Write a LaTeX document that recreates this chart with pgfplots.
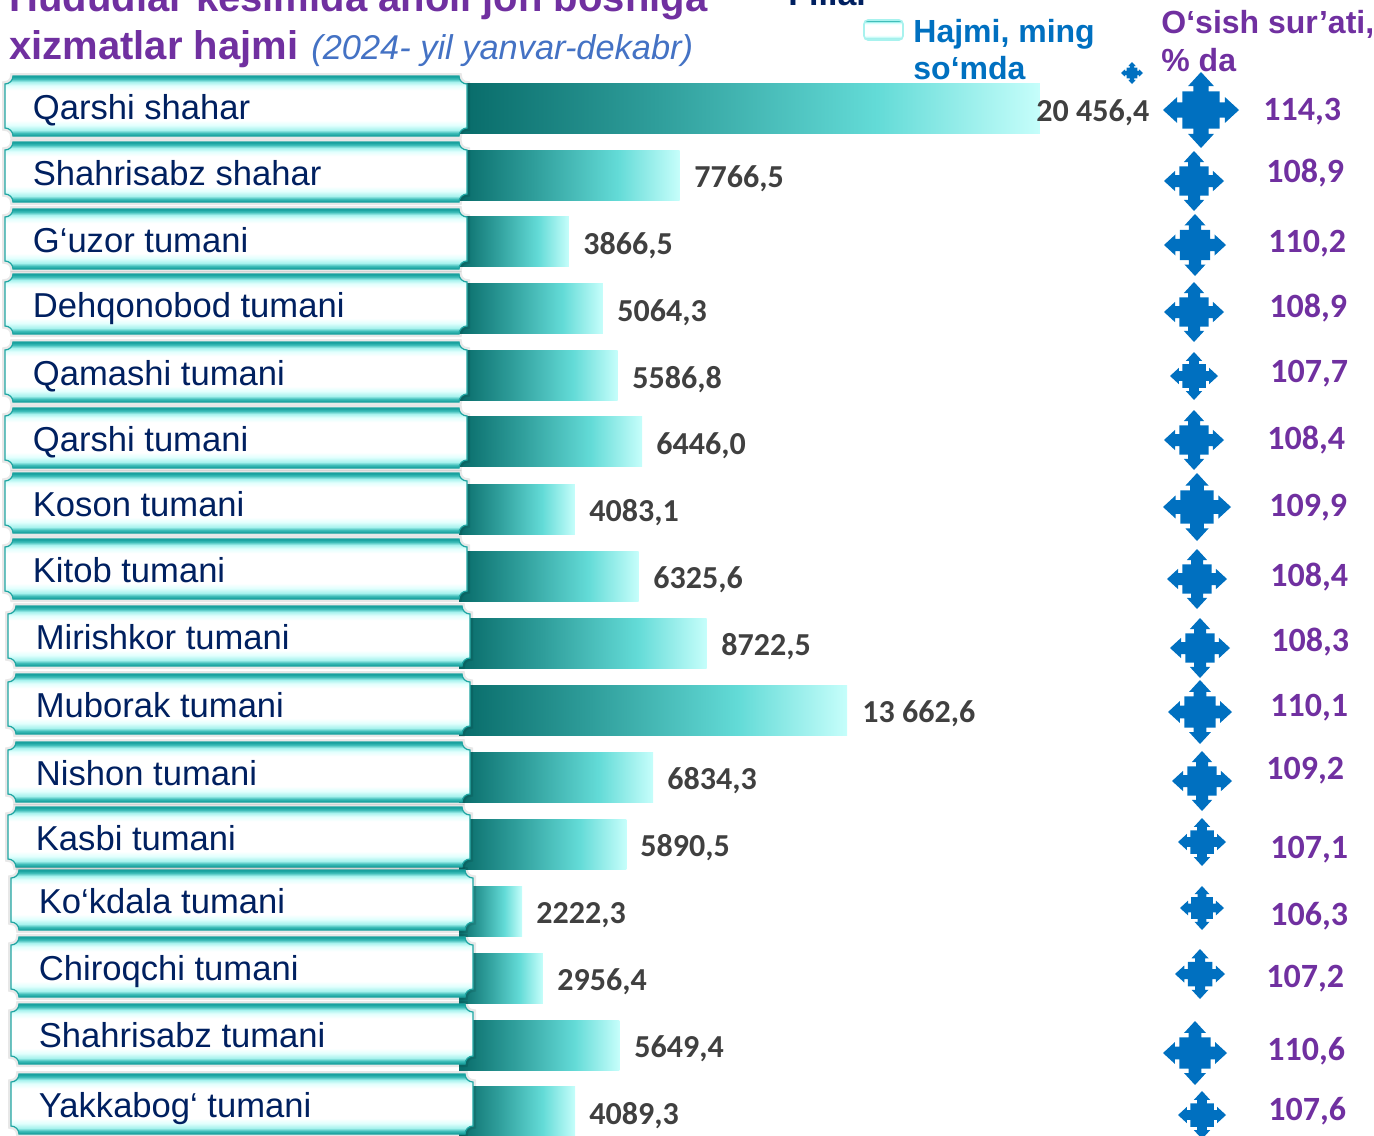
\documentclass[border=0pt]{standalone}
\usepackage{fontspec}
\setmainfont{Liberation Sans}
\newfontfamily\carlito{Carlito}
\usepackage{pgfplots}
\usepackage{pgfplotstable}
\pgfplotsset{compat=1.18}

\definecolor{ttl}{HTML}{7030A0}
\definecolor{sub}{HTML}{4472C4}
\definecolor{nav}{HTML}{002060}
\definecolor{blu}{HTML}{0070C0}
\definecolor{valc}{HTML}{404040}
\definecolor{cardedge}{HTML}{1FA5A2}

% gradient of the bars, left to right (path spans 25bp..75bp)
\definecolor{ba}{HTML}{0A6E6C}
\definecolor{bb}{HTML}{2F9E9B}
\definecolor{bc}{HTML}{63DBD7}
\definecolor{bd}{HTML}{C6FEFB}
\pgfdeclarehorizontalshading{barshade}{100bp}{
  color(0bp)=(ba); color(26bp)=(ba); color(42bp)=(bb);
  color(61bp)=(bc); color(75bp)=(bd); color(100bp)=(bd)}
% bevel of the region plates, bottom to top
\definecolor{ce}{HTML}{0E9B98}
\definecolor{cb}{HTML}{3FBDB9}
\definecolor{cc}{HTML}{A8F2EE}
\definecolor{cd}{HTML}{E2FFFD}
\pgfdeclareverticalshading{cardshade}{100bp}{
  color(0bp)=(ce); color(25bp)=(ce); color(27.5bp)=(cb); color(30bp)=(cc); color(34bp)=(cd); color(38bp)=(white);
  color(63bp)=(white); color(67bp)=(cd); color(70bp)=(cc); color(72.5bp)=(cb); color(75bp)=(ce); color(100bp)=(ce)}

% four-way arrow, scaled by the mark size
\pgfdeclareplotmark{quadarrow}{%
  \def\q##1##2{\pgfpoint{##1\pgfplotmarksize}{##2\pgfplotmarksize}}%
  \pgfpathmoveto{\q{0}{1}}%
  \pgfpathlineto{\q{.34}{.63}}\pgfpathlineto{\q{.2}{.63}}\pgfpathlineto{\q{.2}{.49}}%
  \pgfpathlineto{\q{.49}{.49}}\pgfpathlineto{\q{.49}{.2}}\pgfpathlineto{\q{.63}{.2}}%
  \pgfpathlineto{\q{.63}{.34}}\pgfpathlineto{\q{1}{0}}\pgfpathlineto{\q{.63}{-.34}}%
  \pgfpathlineto{\q{.63}{-.2}}\pgfpathlineto{\q{.49}{-.2}}\pgfpathlineto{\q{.49}{-.49}}%
  \pgfpathlineto{\q{.2}{-.49}}\pgfpathlineto{\q{.2}{-.63}}\pgfpathlineto{\q{.34}{-.63}}%
  \pgfpathlineto{\q{0}{-1}}\pgfpathlineto{\q{-.34}{-.63}}\pgfpathlineto{\q{-.2}{-.63}}%
  \pgfpathlineto{\q{-.2}{-.49}}\pgfpathlineto{\q{-.49}{-.49}}\pgfpathlineto{\q{-.49}{-.2}}%
  \pgfpathlineto{\q{-.63}{-.2}}\pgfpathlineto{\q{-.63}{-.34}}\pgfpathlineto{\q{-1}{0}}%
  \pgfpathlineto{\q{-.63}{.34}}\pgfpathlineto{\q{-.63}{.2}}\pgfpathlineto{\q{-.49}{.2}}%
  \pgfpathlineto{\q{-.49}{.49}}\pgfpathlineto{\q{-.2}{.49}}\pgfpathlineto{\q{-.2}{.63}}%
  \pgfpathlineto{\q{-.34}{.63}}\pgfpathclose
  \pgfusepathqfill}

% arrow centres and half sizes in image pixels
\pgfplotstableread{
x     y     r
1201  110   38
1194  181   30
1195  245   31
1194  312   30
1194  376   24
1194  440   30
1197  507   34
1197  579   30
1200  648   30
1200  712   32
1202  781   30
1202  842   24
1202  908   22
1200  974   25
1195  1053  32
1202  1115  24
1132  73    11
}\arrows

\newcommand\plate[3]{%
  \path[fill=black,opacity=.09,draw=black,line width=3pt]
    (axis cs:#1,#2) ++(-111.5pt,15pt) -- ++(223pt,0)
    arc[start angle=180,end angle=270,radius=4pt] -- ++(0,-22pt)
    arc[start angle=90,end angle=180,radius=4pt] -- ++(-223pt,0)
    arc[start angle=0,end angle=90,radius=4pt] -- ++(0,22pt)
    arc[start angle=270,end angle=360,radius=4pt] -- cycle;
  \path[shading=cardshade,draw=cardedge,line width=.6pt]
    (axis cs:#1,#2) ++(-111.5pt,15pt) -- ++(223pt,0)
    arc[start angle=180,end angle=270,radius=4pt] -- ++(0,-22pt)
    arc[start angle=90,end angle=180,radius=4pt] -- ++(-223pt,0)
    arc[start angle=0,end angle=90,radius=4pt] -- ++(0,22pt)
    arc[start angle=270,end angle=360,radius=4pt] -- cycle;
  \node[anchor=mid west,inner sep=0pt,text=nav,font=\fontsize{17.3}{20}\selectfont]
    at (axis cs:#1-203.5,#2+8) {#3};}
\newcommand\vlab[3]{\node[anchor=mid west,inner sep=0pt,text=valc,
  font=\carlito\bfseries\fontsize{16}{18}\selectfont] at (axis cs:#1,#2+6) {#3};}
\newcommand\glab[3]{\node[anchor=mid west,inner sep=0pt,text=ttl,
  font=\carlito\bfseries\fontsize{17}{19}\selectfont] at (axis cs:#1-1,#2+6) {#3};}
\newcommand\head[4]{\node[anchor=base west,inner sep=0pt,text=#3,
  font=\bfseries\fontsize{16}{18}\selectfont] at (axis cs:#1,#2) {#4};}

\pgfplotsset{frame/.style={scale only axis,width=687pt,height=567.5pt,hide axis,
  ymin=0,ymax=1135,y dir=reverse,clip=false},
  gbar/.style={xbar,bar width=25pt,bar shift=0pt,draw=none,shading=barshade}}

\begin{document}
\begin{tikzpicture}
\path[use as bounding box,clip] (0,0) rectangle (687pt,567.5pt);

% bars: x runs in volume units, zero at pixel 459, y in image pixels
% one plot per bar so that each bar gets the whole gradient
\begin{axis}[frame,xmin=-16162,xmax=32218]
\addplot[gbar] coordinates {(20456.4,108)};
\addplot[gbar] coordinates {(7766.5,175)};
\addplot[gbar] coordinates {(3866.5,241)};
\addplot[gbar] coordinates {(5064.3,308)};
\addplot[gbar] coordinates {(5586.8,375)};
\addplot[gbar] coordinates {(6446.0,441)};
\addplot[gbar] coordinates {(4083.1,509)};
\addplot[gbar] coordinates {(6325.6,576)};
\addplot[gbar] coordinates {(8722.5,643)};
\addplot[gbar] coordinates {(13662.6,710)};
\addplot[gbar] coordinates {(6834.3,777)};
\addplot[gbar] coordinates {(5890.5,844)};
\addplot[gbar] coordinates {(2222.3,911)};
\addplot[gbar] coordinates {(2956.4,978)};
\addplot[gbar] coordinates {(5649.4,1045)};
\addplot[gbar] coordinates {(4089.3,1111)};
\end{axis}

% everything else in image pixels
\begin{axis}[frame,xmin=0,xmax=1374]
\plate{236}{106}{Qarshi shahar}
\plate{236}{172}{Shahrisabz shahar}
\plate{236}{239}{G‘uzor tumani}
\plate{236}{304}{Dehqonobod tumani}
\plate{236}{372}{Qamashi tumani}
\plate{236}{438}{Qarshi tumani}
\plate{236}{503}{Koson tumani}
\plate{236}{569}{Kitob tumani}
\plate{239}{636}{Mirishkor tumani}
\plate{239}{704}{Muborak tumani}
\plate{239}{772}{Nishon tumani}
\plate{239}{837}{Kasbi tumani}
\plate{242}{900}{Ko‘kdala tumani}
\plate{242}{967}{Chiroqchi tumani}
\plate{242}{1034}{Shahrisabz tumani}
\plate{242}{1104}{Yakkabog‘ tumani}

\addplot[scatter,only marks,mark=quadarrow,
  point meta=explicit,
  scatter/use mapped color={draw=none,fill=blu},
  visualization depends on={\thisrow{r}/2 \as \perpointmarksize},
  scatter/@pre marker code/.append style={/tikz/mark size=\perpointmarksize}]
  table[x=x,y=y,meta=r] {\arrows};

\vlab{1036}{110}{20 456,4}
\vlab{694}{176}{7766,5}
\vlab{583}{243}{3866,5}
\vlab{617}{310}{5064,3}
\vlab{632}{377}{5586,8}
\vlab{656}{443}{6446,0}
\vlab{589}{510}{4083,1}
\vlab{653}{577}{6325,6}
\vlab{721}{644}{8722,5}
\vlab{862}{711}{13 662,6}
\vlab{667}{778}{6834,3}
\vlab{640}{845}{5890,5}
\vlab{536}{912}{2222,3}
\vlab{557}{979}{2956,4}
\vlab{634}{1046}{5649,4}
\vlab{589}{1113}{4089,3}

\glab{1264}{109}{114,3}
\glab{1267}{171}{108,9}
\glab{1269}{241}{110,2}
\glab{1270}{306}{108,9}
\glab{1271}{371}{107,7}
\glab{1268}{438}{108,4}
\glab{1270}{505}{109,9}
\glab{1271}{575}{108,4}
\glab{1272}{640}{108,3}
\glab{1271}{705}{110,1}
\glab{1267}{768}{109,2}
\glab{1271}{847}{107,1}
\glab{1271}{914}{106,3}
\glab{1267}{976}{107,2}
\glab{1268}{1049}{110,6}
\glab{1269}{1109}{107,6}

% title, cut by the top of the picture
\node[anchor=base west,inner sep=0pt,text=ttl,font=\bfseries\fontsize{20}{24}\selectfont]
  at (axis cs:9,11) {Hududlar kesimida aholi jon boshiga};
\node[anchor=base west,inner sep=0pt,text=ttl,font=\bfseries\fontsize{20}{24}\selectfont]
  at (axis cs:9,59) {xizmatlar hajmi};
\node[anchor=base west,inner sep=0pt,text=sub,font=\itshape\fontsize{17.2}{20}\selectfont]
  at (axis cs:311,59) {(2024- yil yanvar-dekabr)};
\node[anchor=base west,inner sep=0pt,text=nav,font=\bfseries\fontsize{17}{20}\selectfont]
  at (axis cs:788,5) {Filial};

% legend
\path[shading=cardshade,draw=cc,line width=.8pt,rounded corners=2pt]
  (axis cs:864,20) rectangle (axis cs:903,40);
\head{913}{42}{blu}{Hajmi, ming}
\head{913}{79}{blu}{so‘mda}
\head{1161}{33}{ttl}{O‘sish sur’ati,}
\head{1161}{71}{ttl}{\% da}
\end{axis}
\end{tikzpicture}
\end{document}
